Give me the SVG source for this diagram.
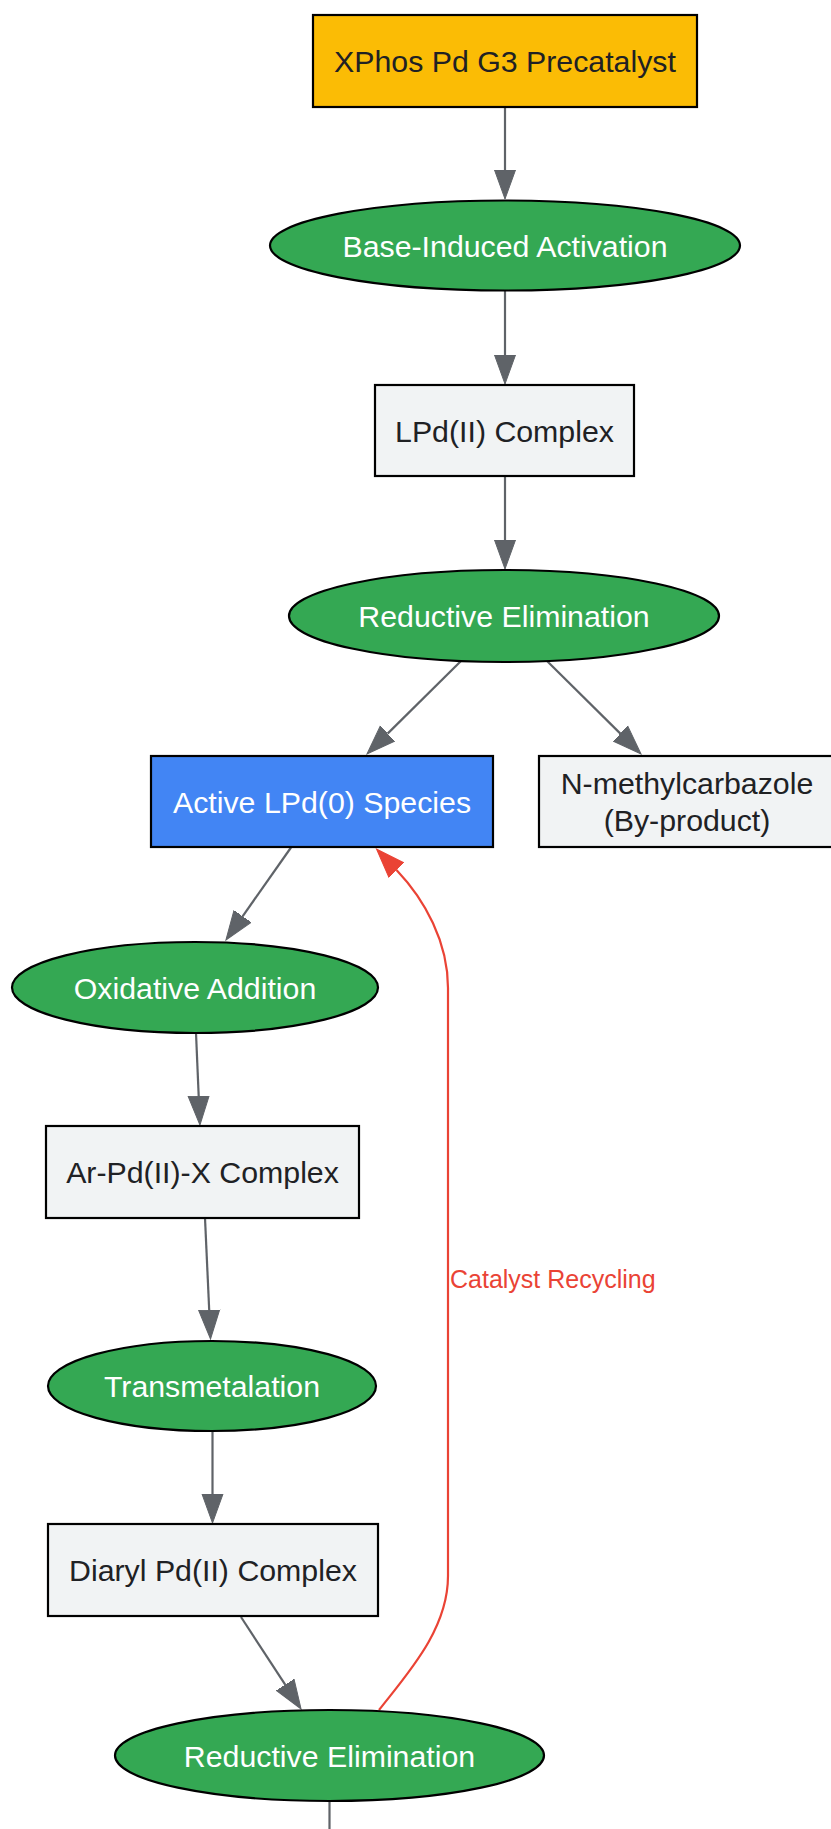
<svg xmlns="http://www.w3.org/2000/svg" width="831" height="1829" viewBox="0 0 831 1829">
<style>
.node rect, .node ellipse { stroke: #000; stroke-width: 2.2; }
.y { fill: #FBBC05; }
.g { fill: #34A853; }
.b { fill: #4285F4; }
.l { fill: #F1F3F4; }
text { font-family: "Liberation Sans", Arial, sans-serif; font-size: 30.3px; text-anchor: middle; }
.dk { fill: #202124; }
.wt { fill: #FFFFFF; }
.edge { fill: none; stroke: #5F6368; stroke-width: 2.2; }
.red { fill: none; stroke: #EA4335; stroke-width: 2.2; }
.lbl { fill: #EA4335; font-size: 25px; text-anchor: start; }
</style>
<defs>
<marker id="ag" markerUnits="userSpaceOnUse" markerWidth="32" markerHeight="24" refX="0" refY="12" orient="auto" viewBox="0 0 32 24">
<path d="M0,1.5 L29,12 L0,22.5 Z" fill="#5F6368" stroke="#5F6368" stroke-width="1"/>
</marker>
<marker id="ar" markerUnits="userSpaceOnUse" markerWidth="32" markerHeight="24" refX="0" refY="12" orient="auto" viewBox="0 0 32 24">
<path d="M0,1.5 L29,12 L0,22.5 Z" fill="#EA4335" stroke="#EA4335" stroke-width="1"/>
</marker>
</defs>
<rect width="831" height="1829" fill="#FFFFFF"/>
<g id="edges">
<path class="edge" d="M505,107 L505,170" marker-end="url(#ag)"/>
<path class="edge" d="M505,291 L505,355" marker-end="url(#ag)"/>
<path class="edge" d="M505,477 L505,540" marker-end="url(#ag)"/>
<path class="edge" d="M461,661 L387.6,733.6" marker-end="url(#ag)"/>
<path class="edge" d="M547,661 L620.4,733.6" marker-end="url(#ag)"/>
<path class="edge" d="M291,847.5 L242.6,916.3" marker-end="url(#ag)"/>
<path class="edge" d="M196,1033 L198.7,1096" marker-end="url(#ag)"/>
<path class="edge" d="M205,1218 L209.2,1310" marker-end="url(#ag)"/>
<path class="edge" d="M212.5,1432 L212.5,1494" marker-end="url(#ag)"/>
<path class="edge" d="M241,1617 L285.2,1684.7" marker-end="url(#ag)"/>
<path class="edge" d="M329.5,1801 L329.5,1840"/>
<path class="red" d="M379,1710 C407,1674 448,1630 448,1576 L448,988 C448,942 425,900 396.5,870" marker-end="url(#ar)"/>
<text class="lbl" x="450" y="1288">Catalyst Recycling</text>
</g>
<g id="n_xphos" class="node">
<rect class="y" x="313" y="15" width="384" height="92"/>
<text class="dk" x="505" y="72">XPhos Pd G3 Precatalyst</text>
</g>
<g id="n_base" class="node">
<ellipse class="g" cx="505" cy="245.5" rx="235" ry="45"/>
<text class="wt" x="505" y="256.5">Base-Induced Activation</text>
</g>
<g id="n_lpd2" class="node">
<rect class="l" x="375" y="385" width="259" height="91"/>
<text class="dk" x="504.5" y="441.5">LPd(II) Complex</text>
</g>
<g id="n_re1" class="node">
<ellipse class="g" cx="504" cy="616" rx="215" ry="46"/>
<text class="wt" x="504" y="627">Reductive Elimination</text>
</g>
<g id="n_active" class="node">
<rect class="b" x="151" y="756" width="342" height="91"/>
<text class="wt" x="322" y="812.5">Active LPd(0) Species</text>
</g>
<g id="n_nmc" class="node">
<rect class="l" x="539" y="756" width="296" height="91"/>
<text class="dk" x="687" y="794">N-methylcarbazole</text>
<text class="dk" x="687" y="831">(By-product)</text>
</g>
<g id="n_oxadd" class="node">
<ellipse class="g" cx="195" cy="987.5" rx="183" ry="45.5"/>
<text class="wt" x="195" y="998.5">Oxidative Addition</text>
</g>
<g id="n_arpd" class="node">
<rect class="l" x="46" y="1126" width="313" height="92"/>
<text class="dk" x="202.5" y="1183">Ar-Pd(II)-X Complex</text>
</g>
<g id="n_trans" class="node">
<ellipse class="g" cx="212" cy="1386" rx="164" ry="45"/>
<text class="wt" x="212" y="1397">Transmetalation</text>
</g>
<g id="n_diaryl" class="node">
<rect class="l" x="48" y="1524" width="330" height="92"/>
<text class="dk" x="213" y="1581">Diaryl Pd(II) Complex</text>
</g>
<g id="n_re2" class="node">
<ellipse class="g" cx="329.5" cy="1755.5" rx="214.5" ry="45.5"/>
<text class="wt" x="329.5" y="1766.5">Reductive Elimination</text>
</g>
</svg>
